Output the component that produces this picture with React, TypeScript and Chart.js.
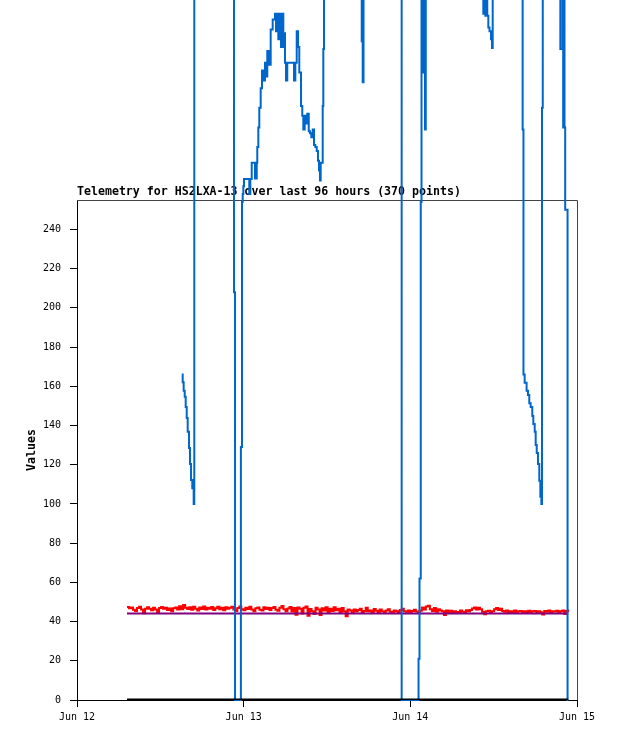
import { useEffect, useRef } from "react";
import { Chart, registerables } from "chart.js";

Chart.register(...registerables);

const TITLE = "Telemetry for HS2LXA-13 over last 96 hours (370 points)";
const Y_TITLE = "Values";

// x axis is in hours since Jun 12 00:00
const xTickHours = [0, 24, 48, 72];
const xTickLabels = ["Jun 12", "Jun 13", "Jun 14", "Jun 15"];
const yTickValues = [0, 20, 40, 60, 80, 100, 120, 140, 160, 180, 200, 220, 240];

// blue series (values above ~357 run off the top of the picture)
const blueTimes = [
  15.08, 15.22, 15.36, 15.51, 15.65, 15.8, 15.94, 16.13, 16.27, 16.42, 16.6, 16.8, 16.89,
  22.61, 22.75,
  23.6, 23.76, 23.86, 23.95, 24.05, 24.44, 24.81, 24.96, 25.16, 25.39, 25.63, 25.88, 25.96,
  26.11, 26.25, 26.45, 26.64, 26.83, 27.07, 27.32, 27.4, 27.65, 27.89, 28.18, 28.51, 28.66,
  28.84, 28.99, 29.23, 29.38, 29.56, 29.71, 29.85, 29.95, 30.1, 30.28, 30.53, 30.77, 31.0,
  31.25, 31.44, 31.64, 31.83, 32.01, 32.26, 32.44, 32.59, 32.79, 32.98, 33.16, 33.37, 33.55,
  33.74, 33.94, 34.13, 34.32, 34.52, 34.7, 34.85, 34.99, 35.09, 35.24, 35.38, 35.47, 35.57,
  41.0, 41.14, 41.26,
  46.75, 49.18, 49.32, 49.5, 49.61, 49.75, 49.87, 50.01, 50.11, 50.22,
  58.51, 58.65, 58.8, 58.94, 59.08, 59.23, 59.4, 59.62, 59.76, 59.86,
  64.17, 64.29, 64.46, 64.74, 64.94, 65.13, 65.33, 65.56, 65.71, 65.91, 66.05, 66.2, 66.38,
  66.57, 66.72, 66.87, 66.96, 67.07,
  69.6, 69.91, 70.01, 70.1, 70.2, 70.3, 70.64, 70.75,
];
const blueValues = [
  166, 162, 157.7, 154.7, 149.4, 143.8, 136.8, 128.5, 120.4, 112.2, 108, 100, 380,
  208, 0,
  129, 254, 258, 262, 265.7, 265.7, 258, 265.7, 274, 274, 266, 274, 282,
  292, 302, 312, 321, 316, 325, 318, 331, 324, 342, 347, 350, 341,
  350, 337, 350, 333, 350, 333, 340, 325, 316, 325, 325, 325, 325,
  316, 325, 341, 333, 320, 303, 298, 291, 298, 294, 299, 290, 289,
  287, 291, 283, 282, 280, 275, 270, 265, 274, 274, 303, 332, 380,
  336, 315, 380,
  0, 21, 62, 254, 380, 320, 380, 320, 291, 380,
  350, 380, 349, 380, 349, 343, 341, 337, 332.5, 380,
  291, 166, 161.8, 157.7, 155.5, 151.4, 149.4, 144.8, 140.8, 136.8, 130, 126, 120.4,
  111.8, 103.7, 100, 302, 380,
  332, 380, 292, 380, 292, 250, 0, 0,
];

// red series, evenly sampled between its first and last time
const redStart = 7.2;
const redEnd = 70.75;
const redValues = [
  47.4, 46.8, 47.2, 46.0, 45.4, 46.9, 47.5, 46.2, 44.3, 46.5, 47.3, 46.6, 45.8, 47.0, 46.1, 44.8, 46.9, 47.4, 46.5, 47.1, 45.9, 46.7,
  45.3, 46.8, 47.2, 46.1, 47.8, 46.3, 48.4, 47.0, 46.4, 47.3, 46.0, 47.5, 46.6, 45.7, 47.2, 46.4, 47.7, 46.2, 47.0, 46.5, 47.4, 45.9, 46.8, 47.6, 46.3, 47.1, 45.8, 47.3, 46.5, 47.0,
  47.5, 46.2, 45.4, 46.9, 47.7, 46.3, 45.8, 47.1, 46.4, 47.5, 46.1, 45.3, 46.8, 47.2, 46.0, 45.7, 47.3, 46.4, 47.0, 45.9,
  46.9, 47.4, 46.0, 45.5, 47.0, 47.9, 46.3, 45.2, 46.7, 47.4, 45.1, 46.9, 43.5, 47.2, 46.5, 44.1, 47.0, 47.7, 43.0, 46.4, 45.3, 43.8, 47.1, 46.2, 43.3, 46.8, 45.6, 47.3, 44.5, 46.6,
  45.4, 47.3, 45.8, 46.5, 44.5, 46.9, 45.3, 42.7, 46.1, 45.6, 44.8, 46.2, 45.1, 45.9, 46.6, 44.6, 45.4, 47.0, 45.2, 45.7, 44.7, 46.4, 45.5, 44.9, 46.1, 45.3, 44.8, 45.7, 46.3, 45.0, 44.7, 45.6, 45.3, 44.8, 45.9, 46.5, 45.2, 45.0, 45.6, 44.9, 45.4, 46.0, 45.1, 44.8, 45.5,
  47.2, 46.1, 47.7, 48.1, 46.3, 45.4, 46.9, 45.0, 46.3, 45.6,
  45.2, 43.3, 45.7, 44.9, 45.5, 44.5, 45.3, 44.9, 44.7, 45.6, 45.0, 44.8, 45.8, 45.2, 45.9,
  46.7, 47.2, 46.1, 47.0, 46.3, 45.0,
  43.7, 45.2, 45.5, 44.8, 45.3, 46.3, 46.9, 45.9, 46.5, 45.4, 45.0, 45.7, 44.7, 45.3, 44.9, 45.6, 44.8, 45.2, 45.4, 44.7, 45.3, 44.9, 45.5, 44.8, 45.2, 45.4, 44.9, 45.3, 44.8, 43.6, 45.4, 45.0, 45.7, 44.9, 45.3, 45.1, 45.5, 44.8, 45.2, 45.6, 43.9, 45.4, 46.1,
];

const purpleTimes = [7.2, 70.75];
const purpleValues = [44.1, 44.1];
const blackTimes = [7.2, 70.75];
const blackValues = [0, 0];

const TICK_FONT = { family: "'DejaVu Sans Mono', monospace", size: 10 };

const framePlugin = {
  id: "frame",
  beforeDatasetsDraw(chart: any) {
    const { ctx, chartArea: a } = chart;
    ctx.save();
    ctx.strokeStyle = "#444";
    ctx.lineWidth = 1;
    ctx.beginPath();
    ctx.moveTo(a.left, a.top + 0.5);
    ctx.lineTo(a.right + 0.5, a.top + 0.5);
    ctx.lineTo(a.right + 0.5, a.bottom);
    ctx.stroke();
    ctx.fillStyle = "#000";
    ctx.font = "bold 11.6px 'DejaVu Sans Mono', monospace";
    ctx.textAlign = "left";
    ctx.textBaseline = "alphabetic";
    ctx.fillText(TITLE, a.left, a.top - 5);
    ctx.translate(32, (a.top + a.bottom) / 2);
    ctx.rotate(-Math.PI / 2);
    ctx.textAlign = "center";
    ctx.textBaseline = "middle";
    ctx.fillText(Y_TITLE, 0, 0);
    ctx.restore();
  },
};

export default function App() {
  const ref = useRef<HTMLCanvasElement | null>(null);

  useEffect(() => {
    if (!ref.current) return;
    const n = redValues.length;
    const redPoints = redValues.map((v, i) => ({
      x: redStart + ((redEnd - redStart) * i) / (n - 1),
      y: v,
    }));
    const chart = new Chart(ref.current, {
      type: "line",
      data: {
        datasets: [
          {
            data: blackTimes.map((t, i) => ({ x: t, y: blackValues[i] })),
            borderColor: "#000000",
            borderWidth: 3,
            order: 0,
          },
          {
            data: blueTimes.map((t, i) => ({ x: t, y: blueValues[i] })),
            borderColor: "#0066cc",
            borderWidth: 2,
            stepped: true,
            clip: false as any,
            order: 1,
          },
          {
            data: purpleTimes.map((t, i) => ({ x: t, y: purpleValues[i] })),
            borderColor: "#800080",
            borderWidth: 2,
            order: 2,
          },
          {
            data: redPoints,
            borderColor: "#ff0000",
            borderWidth: 2,
            stepped: true,
            order: 3,
          },
        ],
      },
      options: {
        animation: false,
        responsive: true,
        maintainAspectRatio: false,
        layout: { padding: { top: 200, right: 41, left: 0, bottom: 0 } },
        elements: { point: { radius: 0 }, line: { tension: 0 } },
        plugins: {
          legend: { display: false },
          title: { display: false },
          tooltip: { enabled: false },
        },
        scales: {
          x: {
            type: "linear",
            min: 0,
            max: 72,
            afterBuildTicks: (s: any) => {
              s.ticks = xTickHours.map((v) => ({ value: v }));
            },
            afterFit: (s: any) => {
              s.height = 41;
            },
            ticks: {
              callback: (_v: any, i: number) => xTickLabels[i],
              font: TICK_FONT,
              color: "#000",
              padding: 4,
              maxRotation: 0,
              autoSkip: false,
            },
            grid: { drawOnChartArea: false, drawTicks: true, tickLength: 7, color: "#000" },
            border: { display: true, color: "#000" },
          },
          y: {
            type: "linear",
            min: 0,
            max: 255,
            afterBuildTicks: (s: any) => {
              s.ticks = yTickValues.map((v) => ({ value: v }));
            },
            afterFit: (s: any) => {
              s.width = 77;
            },
            ticks: {
              callback: (v: any) => String(v),
              font: TICK_FONT,
              color: "#000",
              padding: 9,
              autoSkip: false,
            },
            grid: { drawOnChartArea: false, drawTicks: true, tickLength: 7, color: "#000" },
            border: { display: true, color: "#000" },
          },
        },
      },
      plugins: [framePlugin],
    });
    return () => chart.destroy();
  }, []);

  return (
    <div style={{ position: "fixed", left: 0, top: 0, width: 618, height: 741, background: "#fff" }}>
      <canvas ref={ref} />
    </div>
  );
}
